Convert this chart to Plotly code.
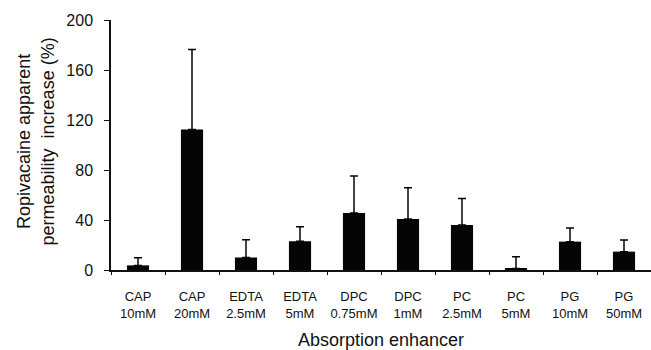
import plotly.graph_objects as go

categories = ["CAP<br>10mM", "CAP<br>20mM", "EDTA<br>2.5mM", "EDTA<br>5mM", "DPC<br>0.75mM",
              "DPC<br>1mM", "PC<br>2.5mM", "PC<br>5mM", "PG<br>10mM", "PG<br>50mM"]
means = [3.7, 112.5, 10.0, 23.0, 45.7, 40.8, 36.0, 1.3, 22.7, 14.7]
sd = [6.1, 64.0, 14.3, 11.7, 29.6, 25.1, 21.3, 9.4, 10.9, 9.3]
y_ticks = [0, 40, 80, 120, 160, 200]

font_fam = "Liberation Sans, Arial, sans-serif"
txt = "#111111"

fig = go.Figure()
fig.add_trace(go.Bar(
    x=categories, y=means,
    marker=dict(color="#050505", line=dict(width=0)),
    width=0.41,
    error_y=dict(type="data", array=sd, arrayminus=[0]*len(sd), symmetric=False,
                 color="#050505", thickness=1.5, width=4),
))

fig.update_layout(
    width=651, height=350,
    margin=dict(l=111, r=0, t=20, b=80),
    plot_bgcolor="white", paper_bgcolor="white",
    showlegend=False,
    font=dict(family=font_fam, color=txt),
    xaxis=dict(
        showline=True, linecolor="#111111", linewidth=1.5,
        ticks="outside", ticklen=3, tickcolor="#111111", tickwidth=1,
        tickson="boundaries", tickfont=dict(size=13, color=txt),
        tickangle=0, automargin=False,
        ticklabelstandoff=14,
        title=dict(text="Absorption enhancer", font=dict(size=18, color=txt), standoff=14),
    ),
    yaxis=dict(
        range=[0, 200], tickvals=y_ticks,
        showline=True, linecolor="#111111", linewidth=1.5,
        ticks="outside", ticklen=5, tickcolor="#111111",
        showgrid=False, zeroline=False, automargin=False,
        tickfont=dict(size=16, color=txt),
        ticklabelstandoff=8,
    ),
    bargap=0.59,
)

fig.add_annotation(
    text="Ropivacaine apparent<br>permeability  increase (%)",
    xref="paper", yref="paper", x=-0.139, y=0.514,
    xanchor="center", yanchor="middle", textangle=-90, showarrow=False,
    font=dict(size=18, color=txt),
)

fig.write_html("out.html")
